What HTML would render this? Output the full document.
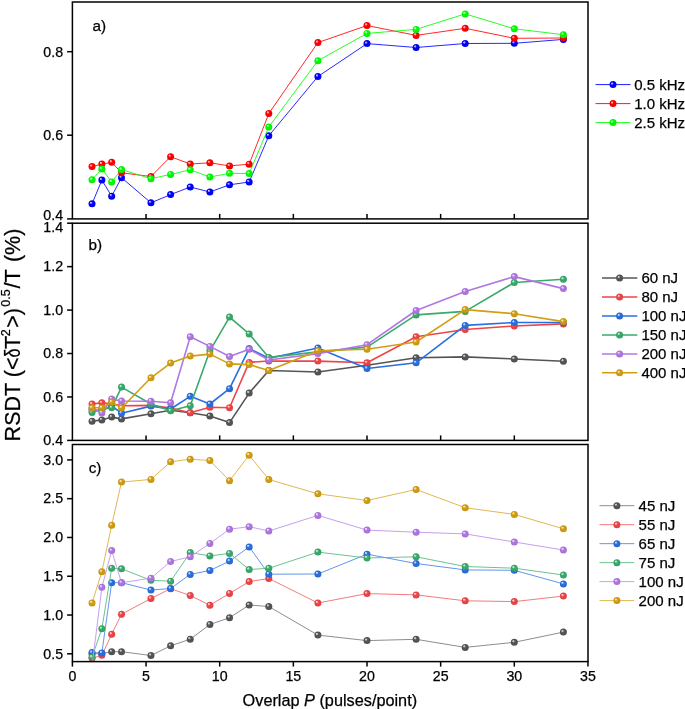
<!DOCTYPE html><html><head><meta charset="utf-8"><style>html,body{margin:0;padding:0;background:#fff;}svg{display:block;will-change:transform;}text{stroke:#000;stroke-width:0.25px;}</style></head><body><svg width="685" height="709" viewBox="0 0 685 709"><defs><radialGradient id="gablue" cx="0.5" cy="0.5" r="0.5" fx="0.31" fy="0.28"><stop offset="0" stop-color="#d9d9ff"/><stop offset="0.2" stop-color="#9999ff"/><stop offset="0.42" stop-color="#0000ff"/><stop offset="1.0" stop-color="#0000f0"/></radialGradient><radialGradient id="gared" cx="0.5" cy="0.5" r="0.5" fx="0.31" fy="0.28"><stop offset="0" stop-color="#ffd9d9"/><stop offset="0.2" stop-color="#ff9999"/><stop offset="0.42" stop-color="#ff0000"/><stop offset="1.0" stop-color="#f00000"/></radialGradient><radialGradient id="gagreen" cx="0.5" cy="0.5" r="0.5" fx="0.31" fy="0.28"><stop offset="0" stop-color="#d9ffd9"/><stop offset="0.2" stop-color="#99ff99"/><stop offset="0.42" stop-color="#00ff00"/><stop offset="1.0" stop-color="#00f000"/></radialGradient><radialGradient id="gbgray" cx="0.5" cy="0.5" r="0.5" fx="0.31" fy="0.28"><stop offset="0" stop-color="#e6e6e6"/><stop offset="0.2" stop-color="#bbbbbb"/><stop offset="0.42" stop-color="#555555"/><stop offset="1.0" stop-color="#505050"/></radialGradient><radialGradient id="gbred" cx="0.5" cy="0.5" r="0.5" fx="0.31" fy="0.28"><stop offset="0" stop-color="#fce3e4"/><stop offset="0.2" stop-color="#f8b5b6"/><stop offset="0.42" stop-color="#ee4548"/><stop offset="1.0" stop-color="#e04144"/></radialGradient><radialGradient id="gbblue" cx="0.5" cy="0.5" r="0.5" fx="0.31" fy="0.28"><stop offset="0" stop-color="#dfe9fa"/><stop offset="0.2" stop-color="#aac5f2"/><stop offset="0.42" stop-color="#2a6fdf"/><stop offset="1.0" stop-color="#2768d2"/></radialGradient><radialGradient id="gbgreen" cx="0.5" cy="0.5" r="0.5" fx="0.31" fy="0.28"><stop offset="0" stop-color="#e1f2e9"/><stop offset="0.2" stop-color="#b0ddc3"/><stop offset="0.42" stop-color="#3aaa6a"/><stop offset="1.0" stop-color="#37a064"/></radialGradient><radialGradient id="gbpurple" cx="0.5" cy="0.5" r="0.5" fx="0.31" fy="0.28"><stop offset="0" stop-color="#f3ebfb"/><stop offset="0.2" stop-color="#dfc9f3"/><stop offset="0.42" stop-color="#b077e2"/><stop offset="1.0" stop-color="#a570d4"/></radialGradient><radialGradient id="gbgold" cx="0.5" cy="0.5" r="0.5" fx="0.31" fy="0.28"><stop offset="0" stop-color="#f8f0db"/><stop offset="0.2" stop-color="#edd8a0"/><stop offset="0.42" stop-color="#d29e12"/><stop offset="1.0" stop-color="#c59511"/></radialGradient></defs><rect width="685" height="709" fill="#fff"/><clipPath id="ca"><rect x="72.4" y="2.0" width="515.6" height="216.9"/></clipPath><clipPath id="cb"><rect x="72.4" y="223.2" width="515.6" height="217.2"/></clipPath><clipPath id="cc"><rect x="72.4" y="444.5" width="515.6" height="217.10000000000002"/></clipPath><g font-family="Liberation Sans, sans-serif" fill="#000" stroke-width="0"><g clip-path="url(#ca)"><polyline points="92.04,203.80 101.86,180.10 111.68,196.20 121.50,177.70 150.96,202.80 170.60,194.60 190.24,187.00 209.88,192.00 229.52,184.80 249.16,182.00 268.80,135.80 317.90,76.50 367.00,43.60 416.10,47.50 465.20,43.50 514.30,43.30 563.40,39.40" fill="none" stroke="#0000ff" stroke-width="0.85" stroke-linejoin="round"/><circle cx="92.04" cy="203.80" r="3.5" fill="url(#gablue)"/><circle cx="101.86" cy="180.10" r="3.5" fill="url(#gablue)"/><circle cx="111.68" cy="196.20" r="3.5" fill="url(#gablue)"/><circle cx="121.50" cy="177.70" r="3.5" fill="url(#gablue)"/><circle cx="150.96" cy="202.80" r="3.5" fill="url(#gablue)"/><circle cx="170.60" cy="194.60" r="3.5" fill="url(#gablue)"/><circle cx="190.24" cy="187.00" r="3.5" fill="url(#gablue)"/><circle cx="209.88" cy="192.00" r="3.5" fill="url(#gablue)"/><circle cx="229.52" cy="184.80" r="3.5" fill="url(#gablue)"/><circle cx="249.16" cy="182.00" r="3.5" fill="url(#gablue)"/><circle cx="268.80" cy="135.80" r="3.5" fill="url(#gablue)"/><circle cx="317.90" cy="76.50" r="3.5" fill="url(#gablue)"/><circle cx="367.00" cy="43.60" r="3.5" fill="url(#gablue)"/><circle cx="416.10" cy="47.50" r="3.5" fill="url(#gablue)"/><circle cx="465.20" cy="43.50" r="3.5" fill="url(#gablue)"/><circle cx="514.30" cy="43.30" r="3.5" fill="url(#gablue)"/><circle cx="563.40" cy="39.40" r="3.5" fill="url(#gablue)"/><polyline points="92.04,166.60 101.86,164.10 111.68,162.30 121.50,172.80 150.96,176.50 170.60,156.70 190.24,164.00 209.88,162.80 229.52,165.90 249.16,164.20 268.80,113.50 317.90,42.60 367.00,25.50 416.10,35.40 465.20,28.30 514.30,38.30 563.40,38.00" fill="none" stroke="#ff0000" stroke-width="0.85" stroke-linejoin="round"/><circle cx="92.04" cy="166.60" r="3.5" fill="url(#gared)"/><circle cx="101.86" cy="164.10" r="3.5" fill="url(#gared)"/><circle cx="111.68" cy="162.30" r="3.5" fill="url(#gared)"/><circle cx="121.50" cy="172.80" r="3.5" fill="url(#gared)"/><circle cx="150.96" cy="176.50" r="3.5" fill="url(#gared)"/><circle cx="170.60" cy="156.70" r="3.5" fill="url(#gared)"/><circle cx="190.24" cy="164.00" r="3.5" fill="url(#gared)"/><circle cx="209.88" cy="162.80" r="3.5" fill="url(#gared)"/><circle cx="229.52" cy="165.90" r="3.5" fill="url(#gared)"/><circle cx="249.16" cy="164.20" r="3.5" fill="url(#gared)"/><circle cx="268.80" cy="113.50" r="3.5" fill="url(#gared)"/><circle cx="317.90" cy="42.60" r="3.5" fill="url(#gared)"/><circle cx="367.00" cy="25.50" r="3.5" fill="url(#gared)"/><circle cx="416.10" cy="35.40" r="3.5" fill="url(#gared)"/><circle cx="465.20" cy="28.30" r="3.5" fill="url(#gared)"/><circle cx="514.30" cy="38.30" r="3.5" fill="url(#gared)"/><circle cx="563.40" cy="38.00" r="3.5" fill="url(#gared)"/><polyline points="92.04,179.70 101.86,168.90 111.68,181.90 121.50,169.60 150.96,178.70 170.60,174.40 190.24,169.80 209.88,177.00 229.52,173.30 249.16,173.60 268.80,126.90 317.90,60.70 367.00,33.40 416.10,29.40 465.20,13.90 514.30,28.80 563.40,34.70" fill="none" stroke="#00ff00" stroke-width="0.85" stroke-linejoin="round"/><circle cx="92.04" cy="179.70" r="3.5" fill="url(#gagreen)"/><circle cx="101.86" cy="168.90" r="3.5" fill="url(#gagreen)"/><circle cx="111.68" cy="181.90" r="3.5" fill="url(#gagreen)"/><circle cx="121.50" cy="169.60" r="3.5" fill="url(#gagreen)"/><circle cx="150.96" cy="178.70" r="3.5" fill="url(#gagreen)"/><circle cx="170.60" cy="174.40" r="3.5" fill="url(#gagreen)"/><circle cx="190.24" cy="169.80" r="3.5" fill="url(#gagreen)"/><circle cx="209.88" cy="177.00" r="3.5" fill="url(#gagreen)"/><circle cx="229.52" cy="173.30" r="3.5" fill="url(#gagreen)"/><circle cx="249.16" cy="173.60" r="3.5" fill="url(#gagreen)"/><circle cx="268.80" cy="126.90" r="3.5" fill="url(#gagreen)"/><circle cx="317.90" cy="60.70" r="3.5" fill="url(#gagreen)"/><circle cx="367.00" cy="33.40" r="3.5" fill="url(#gagreen)"/><circle cx="416.10" cy="29.40" r="3.5" fill="url(#gagreen)"/><circle cx="465.20" cy="13.90" r="3.5" fill="url(#gagreen)"/><circle cx="514.30" cy="28.80" r="3.5" fill="url(#gagreen)"/><circle cx="563.40" cy="34.70" r="3.5" fill="url(#gagreen)"/></g><g clip-path="url(#cb)"><polyline points="92.04,421.30 101.86,419.90 111.68,417.10 121.50,418.90 150.96,413.80 170.60,410.30 190.24,412.80 209.88,416.00 229.52,422.60 249.16,393.10 268.80,370.50 317.90,372.00 367.00,365.30 416.10,357.80 465.20,356.90 514.30,359.00 563.40,361.30" fill="none" stroke="#555555" stroke-width="1.6" stroke-linejoin="round"/><circle cx="92.04" cy="421.30" r="3.5" fill="url(#gbgray)"/><circle cx="101.86" cy="419.90" r="3.5" fill="url(#gbgray)"/><circle cx="111.68" cy="417.10" r="3.5" fill="url(#gbgray)"/><circle cx="121.50" cy="418.90" r="3.5" fill="url(#gbgray)"/><circle cx="150.96" cy="413.80" r="3.5" fill="url(#gbgray)"/><circle cx="170.60" cy="410.30" r="3.5" fill="url(#gbgray)"/><circle cx="190.24" cy="412.80" r="3.5" fill="url(#gbgray)"/><circle cx="209.88" cy="416.00" r="3.5" fill="url(#gbgray)"/><circle cx="229.52" cy="422.60" r="3.5" fill="url(#gbgray)"/><circle cx="249.16" cy="393.10" r="3.5" fill="url(#gbgray)"/><circle cx="268.80" cy="370.50" r="3.5" fill="url(#gbgray)"/><circle cx="317.90" cy="372.00" r="3.5" fill="url(#gbgray)"/><circle cx="367.00" cy="365.30" r="3.5" fill="url(#gbgray)"/><circle cx="416.10" cy="357.80" r="3.5" fill="url(#gbgray)"/><circle cx="465.20" cy="356.90" r="3.5" fill="url(#gbgray)"/><circle cx="514.30" cy="359.00" r="3.5" fill="url(#gbgray)"/><circle cx="563.40" cy="361.30" r="3.5" fill="url(#gbgray)"/><polyline points="92.04,404.10 101.86,402.80 111.68,403.80 121.50,405.70 150.96,405.40 170.60,408.00 190.24,412.80 209.88,407.30 229.52,407.70 249.16,362.40 268.80,361.00 317.90,361.10 367.00,362.80 416.10,336.80 465.20,329.50 514.30,326.00 563.40,323.90" fill="none" stroke="#ee4548" stroke-width="1.6" stroke-linejoin="round"/><circle cx="92.04" cy="404.10" r="3.5" fill="url(#gbred)"/><circle cx="101.86" cy="402.80" r="3.5" fill="url(#gbred)"/><circle cx="111.68" cy="403.80" r="3.5" fill="url(#gbred)"/><circle cx="121.50" cy="405.70" r="3.5" fill="url(#gbred)"/><circle cx="150.96" cy="405.40" r="3.5" fill="url(#gbred)"/><circle cx="170.60" cy="408.00" r="3.5" fill="url(#gbred)"/><circle cx="190.24" cy="412.80" r="3.5" fill="url(#gbred)"/><circle cx="209.88" cy="407.30" r="3.5" fill="url(#gbred)"/><circle cx="229.52" cy="407.70" r="3.5" fill="url(#gbred)"/><circle cx="249.16" cy="362.40" r="3.5" fill="url(#gbred)"/><circle cx="268.80" cy="361.00" r="3.5" fill="url(#gbred)"/><circle cx="317.90" cy="361.10" r="3.5" fill="url(#gbred)"/><circle cx="367.00" cy="362.80" r="3.5" fill="url(#gbred)"/><circle cx="416.10" cy="336.80" r="3.5" fill="url(#gbred)"/><circle cx="465.20" cy="329.50" r="3.5" fill="url(#gbred)"/><circle cx="514.30" cy="326.00" r="3.5" fill="url(#gbred)"/><circle cx="563.40" cy="323.90" r="3.5" fill="url(#gbred)"/><polyline points="92.04,410.00 101.86,410.50 111.68,406.00 121.50,413.20 150.96,406.10 170.60,409.00 190.24,396.30 209.88,404.00 229.52,388.70 249.16,348.60 268.80,358.30 317.90,348.00 367.00,368.50 416.10,362.80 465.20,325.40 514.30,322.50 563.40,322.50" fill="none" stroke="#2a6fdf" stroke-width="1.6" stroke-linejoin="round"/><circle cx="92.04" cy="410.00" r="3.5" fill="url(#gbblue)"/><circle cx="101.86" cy="410.50" r="3.5" fill="url(#gbblue)"/><circle cx="111.68" cy="406.00" r="3.5" fill="url(#gbblue)"/><circle cx="121.50" cy="413.20" r="3.5" fill="url(#gbblue)"/><circle cx="150.96" cy="406.10" r="3.5" fill="url(#gbblue)"/><circle cx="170.60" cy="409.00" r="3.5" fill="url(#gbblue)"/><circle cx="190.24" cy="396.30" r="3.5" fill="url(#gbblue)"/><circle cx="209.88" cy="404.00" r="3.5" fill="url(#gbblue)"/><circle cx="229.52" cy="388.70" r="3.5" fill="url(#gbblue)"/><circle cx="249.16" cy="348.60" r="3.5" fill="url(#gbblue)"/><circle cx="268.80" cy="358.30" r="3.5" fill="url(#gbblue)"/><circle cx="317.90" cy="348.00" r="3.5" fill="url(#gbblue)"/><circle cx="367.00" cy="368.50" r="3.5" fill="url(#gbblue)"/><circle cx="416.10" cy="362.80" r="3.5" fill="url(#gbblue)"/><circle cx="465.20" cy="325.40" r="3.5" fill="url(#gbblue)"/><circle cx="514.30" cy="322.50" r="3.5" fill="url(#gbblue)"/><circle cx="563.40" cy="322.50" r="3.5" fill="url(#gbblue)"/><polyline points="92.04,412.50 101.86,409.00 111.68,407.80 121.50,387.10 150.96,404.00 170.60,410.80 190.24,405.80 209.88,350.80 229.52,317.10 249.16,333.90 268.80,357.40 317.90,351.90 367.00,347.10 416.10,314.90 465.20,311.40 514.30,282.50 563.40,279.30" fill="none" stroke="#3aaa6a" stroke-width="1.6" stroke-linejoin="round"/><circle cx="92.04" cy="412.50" r="3.5" fill="url(#gbgreen)"/><circle cx="101.86" cy="409.00" r="3.5" fill="url(#gbgreen)"/><circle cx="111.68" cy="407.80" r="3.5" fill="url(#gbgreen)"/><circle cx="121.50" cy="387.10" r="3.5" fill="url(#gbgreen)"/><circle cx="150.96" cy="404.00" r="3.5" fill="url(#gbgreen)"/><circle cx="170.60" cy="410.80" r="3.5" fill="url(#gbgreen)"/><circle cx="190.24" cy="405.80" r="3.5" fill="url(#gbgreen)"/><circle cx="209.88" cy="350.80" r="3.5" fill="url(#gbgreen)"/><circle cx="229.52" cy="317.10" r="3.5" fill="url(#gbgreen)"/><circle cx="249.16" cy="333.90" r="3.5" fill="url(#gbgreen)"/><circle cx="268.80" cy="357.40" r="3.5" fill="url(#gbgreen)"/><circle cx="317.90" cy="351.90" r="3.5" fill="url(#gbgreen)"/><circle cx="367.00" cy="347.10" r="3.5" fill="url(#gbgreen)"/><circle cx="416.10" cy="314.90" r="3.5" fill="url(#gbgreen)"/><circle cx="465.20" cy="311.40" r="3.5" fill="url(#gbgreen)"/><circle cx="514.30" cy="282.50" r="3.5" fill="url(#gbgreen)"/><circle cx="563.40" cy="279.30" r="3.5" fill="url(#gbgreen)"/><polyline points="92.04,408.20 101.86,412.90 111.68,399.10 121.50,401.00 150.96,401.20 170.60,402.80 190.24,336.80 209.88,346.40 229.52,356.50 249.16,349.30 268.80,360.00 317.90,353.60 367.00,344.70 416.10,310.50 465.20,291.50 514.30,276.60 563.40,288.60" fill="none" stroke="#b077e2" stroke-width="1.6" stroke-linejoin="round"/><circle cx="92.04" cy="408.20" r="3.5" fill="url(#gbpurple)"/><circle cx="101.86" cy="412.90" r="3.5" fill="url(#gbpurple)"/><circle cx="111.68" cy="399.10" r="3.5" fill="url(#gbpurple)"/><circle cx="121.50" cy="401.00" r="3.5" fill="url(#gbpurple)"/><circle cx="150.96" cy="401.20" r="3.5" fill="url(#gbpurple)"/><circle cx="170.60" cy="402.80" r="3.5" fill="url(#gbpurple)"/><circle cx="190.24" cy="336.80" r="3.5" fill="url(#gbpurple)"/><circle cx="209.88" cy="346.40" r="3.5" fill="url(#gbpurple)"/><circle cx="229.52" cy="356.50" r="3.5" fill="url(#gbpurple)"/><circle cx="249.16" cy="349.30" r="3.5" fill="url(#gbpurple)"/><circle cx="268.80" cy="360.00" r="3.5" fill="url(#gbpurple)"/><circle cx="317.90" cy="353.60" r="3.5" fill="url(#gbpurple)"/><circle cx="367.00" cy="344.70" r="3.5" fill="url(#gbpurple)"/><circle cx="416.10" cy="310.50" r="3.5" fill="url(#gbpurple)"/><circle cx="465.20" cy="291.50" r="3.5" fill="url(#gbpurple)"/><circle cx="514.30" cy="276.60" r="3.5" fill="url(#gbpurple)"/><circle cx="563.40" cy="288.60" r="3.5" fill="url(#gbpurple)"/><polyline points="92.04,407.80 101.86,407.80 111.68,402.10 121.50,408.00 150.96,377.80 170.60,363.10 190.24,356.10 209.88,354.10 229.52,363.90 249.16,364.60 268.80,370.50 317.90,350.80 367.00,349.30 416.10,342.00 465.20,309.60 514.30,313.70 563.40,321.60" fill="none" stroke="#d29e12" stroke-width="1.6" stroke-linejoin="round"/><circle cx="92.04" cy="407.80" r="3.5" fill="url(#gbgold)"/><circle cx="101.86" cy="407.80" r="3.5" fill="url(#gbgold)"/><circle cx="111.68" cy="402.10" r="3.5" fill="url(#gbgold)"/><circle cx="121.50" cy="408.00" r="3.5" fill="url(#gbgold)"/><circle cx="150.96" cy="377.80" r="3.5" fill="url(#gbgold)"/><circle cx="170.60" cy="363.10" r="3.5" fill="url(#gbgold)"/><circle cx="190.24" cy="356.10" r="3.5" fill="url(#gbgold)"/><circle cx="209.88" cy="354.10" r="3.5" fill="url(#gbgold)"/><circle cx="229.52" cy="363.90" r="3.5" fill="url(#gbgold)"/><circle cx="249.16" cy="364.60" r="3.5" fill="url(#gbgold)"/><circle cx="268.80" cy="370.50" r="3.5" fill="url(#gbgold)"/><circle cx="317.90" cy="350.80" r="3.5" fill="url(#gbgold)"/><circle cx="367.00" cy="349.30" r="3.5" fill="url(#gbgold)"/><circle cx="416.10" cy="342.00" r="3.5" fill="url(#gbgold)"/><circle cx="465.20" cy="309.60" r="3.5" fill="url(#gbgold)"/><circle cx="514.30" cy="313.70" r="3.5" fill="url(#gbgold)"/><circle cx="563.40" cy="321.60" r="3.5" fill="url(#gbgold)"/></g><g clip-path="url(#cc)"><polyline points="92.04,654.00 101.86,653.50 111.68,651.70 121.50,651.70 150.96,655.50 170.60,645.80 190.24,639.20 209.88,624.50 229.52,617.70 249.16,605.00 268.80,606.50 317.90,635.10 367.00,640.60 416.10,639.30 465.20,647.40 514.30,642.30 563.40,632.10" fill="none" stroke="#808080" stroke-width="0.9" stroke-linejoin="round"/><circle cx="92.04" cy="654.00" r="3.5" fill="url(#gbgray)"/><circle cx="101.86" cy="653.50" r="3.5" fill="url(#gbgray)"/><circle cx="111.68" cy="651.70" r="3.5" fill="url(#gbgray)"/><circle cx="121.50" cy="651.70" r="3.5" fill="url(#gbgray)"/><circle cx="150.96" cy="655.50" r="3.5" fill="url(#gbgray)"/><circle cx="170.60" cy="645.80" r="3.5" fill="url(#gbgray)"/><circle cx="190.24" cy="639.20" r="3.5" fill="url(#gbgray)"/><circle cx="209.88" cy="624.50" r="3.5" fill="url(#gbgray)"/><circle cx="229.52" cy="617.70" r="3.5" fill="url(#gbgray)"/><circle cx="249.16" cy="605.00" r="3.5" fill="url(#gbgray)"/><circle cx="268.80" cy="606.50" r="3.5" fill="url(#gbgray)"/><circle cx="317.90" cy="635.10" r="3.5" fill="url(#gbgray)"/><circle cx="367.00" cy="640.60" r="3.5" fill="url(#gbgray)"/><circle cx="416.10" cy="639.30" r="3.5" fill="url(#gbgray)"/><circle cx="465.20" cy="647.40" r="3.5" fill="url(#gbgray)"/><circle cx="514.30" cy="642.30" r="3.5" fill="url(#gbgray)"/><circle cx="563.40" cy="632.10" r="3.5" fill="url(#gbgray)"/><polyline points="92.04,658.30 101.86,655.20 111.68,634.30 121.50,614.20 150.96,598.50 170.60,588.70 190.24,595.50 209.88,605.20 229.52,593.40 249.16,581.60 268.80,578.50 317.90,603.00 367.00,593.60 416.10,594.90 465.20,600.80 514.30,601.60 563.40,596.10" fill="none" stroke="#f26b6d" stroke-width="0.9" stroke-linejoin="round"/><circle cx="92.04" cy="658.30" r="3.5" fill="url(#gbred)"/><circle cx="101.86" cy="655.20" r="3.5" fill="url(#gbred)"/><circle cx="111.68" cy="634.30" r="3.5" fill="url(#gbred)"/><circle cx="121.50" cy="614.20" r="3.5" fill="url(#gbred)"/><circle cx="150.96" cy="598.50" r="3.5" fill="url(#gbred)"/><circle cx="170.60" cy="588.70" r="3.5" fill="url(#gbred)"/><circle cx="190.24" cy="595.50" r="3.5" fill="url(#gbred)"/><circle cx="209.88" cy="605.20" r="3.5" fill="url(#gbred)"/><circle cx="229.52" cy="593.40" r="3.5" fill="url(#gbred)"/><circle cx="249.16" cy="581.60" r="3.5" fill="url(#gbred)"/><circle cx="268.80" cy="578.50" r="3.5" fill="url(#gbred)"/><circle cx="317.90" cy="603.00" r="3.5" fill="url(#gbred)"/><circle cx="367.00" cy="593.60" r="3.5" fill="url(#gbred)"/><circle cx="416.10" cy="594.90" r="3.5" fill="url(#gbred)"/><circle cx="465.20" cy="600.80" r="3.5" fill="url(#gbred)"/><circle cx="514.30" cy="601.60" r="3.5" fill="url(#gbred)"/><circle cx="563.40" cy="596.10" r="3.5" fill="url(#gbred)"/><polyline points="92.04,652.60 101.86,652.90 111.68,582.70 121.50,582.70 150.96,590.00 170.60,588.50 190.24,574.40 209.88,570.50 229.52,561.10 249.16,546.90 268.80,574.20 317.90,574.00 367.00,554.20 416.10,563.50 465.20,569.90 514.30,570.30 563.40,583.90" fill="none" stroke="#4f8ae6" stroke-width="0.9" stroke-linejoin="round"/><circle cx="92.04" cy="652.60" r="3.5" fill="url(#gbblue)"/><circle cx="101.86" cy="652.90" r="3.5" fill="url(#gbblue)"/><circle cx="111.68" cy="582.70" r="3.5" fill="url(#gbblue)"/><circle cx="121.50" cy="582.70" r="3.5" fill="url(#gbblue)"/><circle cx="150.96" cy="590.00" r="3.5" fill="url(#gbblue)"/><circle cx="170.60" cy="588.50" r="3.5" fill="url(#gbblue)"/><circle cx="190.24" cy="574.40" r="3.5" fill="url(#gbblue)"/><circle cx="209.88" cy="570.50" r="3.5" fill="url(#gbblue)"/><circle cx="229.52" cy="561.10" r="3.5" fill="url(#gbblue)"/><circle cx="249.16" cy="546.90" r="3.5" fill="url(#gbblue)"/><circle cx="268.80" cy="574.20" r="3.5" fill="url(#gbblue)"/><circle cx="317.90" cy="574.00" r="3.5" fill="url(#gbblue)"/><circle cx="367.00" cy="554.20" r="3.5" fill="url(#gbblue)"/><circle cx="416.10" cy="563.50" r="3.5" fill="url(#gbblue)"/><circle cx="465.20" cy="569.90" r="3.5" fill="url(#gbblue)"/><circle cx="514.30" cy="570.30" r="3.5" fill="url(#gbblue)"/><circle cx="563.40" cy="583.90" r="3.5" fill="url(#gbblue)"/><polyline points="92.04,657.30 101.86,628.70 111.68,568.20 121.50,568.80 150.96,580.30 170.60,581.20 190.24,552.60 209.88,555.90 229.52,553.40 249.16,569.50 268.80,568.30 317.90,552.10 367.00,558.00 416.10,556.80 465.20,566.50 514.30,568.20 563.40,575.00" fill="none" stroke="#5cba84" stroke-width="0.9" stroke-linejoin="round"/><circle cx="92.04" cy="657.30" r="3.5" fill="url(#gbgreen)"/><circle cx="101.86" cy="628.70" r="3.5" fill="url(#gbgreen)"/><circle cx="111.68" cy="568.20" r="3.5" fill="url(#gbgreen)"/><circle cx="121.50" cy="568.80" r="3.5" fill="url(#gbgreen)"/><circle cx="150.96" cy="580.30" r="3.5" fill="url(#gbgreen)"/><circle cx="170.60" cy="581.20" r="3.5" fill="url(#gbgreen)"/><circle cx="190.24" cy="552.60" r="3.5" fill="url(#gbgreen)"/><circle cx="209.88" cy="555.90" r="3.5" fill="url(#gbgreen)"/><circle cx="229.52" cy="553.40" r="3.5" fill="url(#gbgreen)"/><circle cx="249.16" cy="569.50" r="3.5" fill="url(#gbgreen)"/><circle cx="268.80" cy="568.30" r="3.5" fill="url(#gbgreen)"/><circle cx="317.90" cy="552.10" r="3.5" fill="url(#gbgreen)"/><circle cx="367.00" cy="558.00" r="3.5" fill="url(#gbgreen)"/><circle cx="416.10" cy="556.80" r="3.5" fill="url(#gbgreen)"/><circle cx="465.20" cy="566.50" r="3.5" fill="url(#gbgreen)"/><circle cx="514.30" cy="568.20" r="3.5" fill="url(#gbgreen)"/><circle cx="563.40" cy="575.00" r="3.5" fill="url(#gbgreen)"/><polyline points="92.04,666.00 101.86,587.30 111.68,550.60 121.50,582.70 150.96,578.20 170.60,561.50 190.24,556.80 209.88,543.40 229.52,529.20 249.16,526.70 268.80,531.00 317.90,515.40 367.00,530.10 416.10,532.20 465.20,533.90 514.30,542.00 563.40,550.00" fill="none" stroke="#c195ea" stroke-width="0.9" stroke-linejoin="round"/><circle cx="92.04" cy="666.00" r="3.5" fill="url(#gbpurple)"/><circle cx="101.86" cy="587.30" r="3.5" fill="url(#gbpurple)"/><circle cx="111.68" cy="550.60" r="3.5" fill="url(#gbpurple)"/><circle cx="121.50" cy="582.70" r="3.5" fill="url(#gbpurple)"/><circle cx="150.96" cy="578.20" r="3.5" fill="url(#gbpurple)"/><circle cx="170.60" cy="561.50" r="3.5" fill="url(#gbpurple)"/><circle cx="190.24" cy="556.80" r="3.5" fill="url(#gbpurple)"/><circle cx="209.88" cy="543.40" r="3.5" fill="url(#gbpurple)"/><circle cx="229.52" cy="529.20" r="3.5" fill="url(#gbpurple)"/><circle cx="249.16" cy="526.70" r="3.5" fill="url(#gbpurple)"/><circle cx="268.80" cy="531.00" r="3.5" fill="url(#gbpurple)"/><circle cx="317.90" cy="515.40" r="3.5" fill="url(#gbpurple)"/><circle cx="367.00" cy="530.10" r="3.5" fill="url(#gbpurple)"/><circle cx="416.10" cy="532.20" r="3.5" fill="url(#gbpurple)"/><circle cx="465.20" cy="533.90" r="3.5" fill="url(#gbpurple)"/><circle cx="514.30" cy="542.00" r="3.5" fill="url(#gbpurple)"/><circle cx="563.40" cy="550.00" r="3.5" fill="url(#gbpurple)"/><polyline points="92.04,603.00 101.86,571.80 111.68,525.20 121.50,482.10 150.96,479.40 170.60,461.80 190.24,459.20 209.88,460.50 229.52,480.70 249.16,455.20 268.80,479.50 317.90,493.80 367.00,500.50 416.10,489.50 465.20,507.70 514.30,514.40 563.40,528.80" fill="none" stroke="#dbb040" stroke-width="0.9" stroke-linejoin="round"/><circle cx="92.04" cy="603.00" r="3.5" fill="url(#gbgold)"/><circle cx="101.86" cy="571.80" r="3.5" fill="url(#gbgold)"/><circle cx="111.68" cy="525.20" r="3.5" fill="url(#gbgold)"/><circle cx="121.50" cy="482.10" r="3.5" fill="url(#gbgold)"/><circle cx="150.96" cy="479.40" r="3.5" fill="url(#gbgold)"/><circle cx="170.60" cy="461.80" r="3.5" fill="url(#gbgold)"/><circle cx="190.24" cy="459.20" r="3.5" fill="url(#gbgold)"/><circle cx="209.88" cy="460.50" r="3.5" fill="url(#gbgold)"/><circle cx="229.52" cy="480.70" r="3.5" fill="url(#gbgold)"/><circle cx="249.16" cy="455.20" r="3.5" fill="url(#gbgold)"/><circle cx="268.80" cy="479.50" r="3.5" fill="url(#gbgold)"/><circle cx="317.90" cy="493.80" r="3.5" fill="url(#gbgold)"/><circle cx="367.00" cy="500.50" r="3.5" fill="url(#gbgold)"/><circle cx="416.10" cy="489.50" r="3.5" fill="url(#gbgold)"/><circle cx="465.20" cy="507.70" r="3.5" fill="url(#gbgold)"/><circle cx="514.30" cy="514.40" r="3.5" fill="url(#gbgold)"/><circle cx="563.40" cy="528.80" r="3.5" fill="url(#gbgold)"/></g><rect x="72.4" y="2.0" width="515.6" height="216.9" fill="none" stroke="#000" stroke-width="1.5"/><rect x="72.4" y="223.2" width="515.6" height="217.2" fill="none" stroke="#000" stroke-width="1.5"/><rect x="72.4" y="444.5" width="515.6" height="217.10000000000002" fill="none" stroke="#000" stroke-width="1.5"/><line x1="67.10000000000001" y1="218.90" x2="72.4" y2="218.90" stroke="#000" stroke-width="1.5"/><text x="63.10000000000001" y="220.4" font-size="14.2" text-anchor="end">0.4</text><line x1="67.10000000000001" y1="135.20" x2="72.4" y2="135.20" stroke="#000" stroke-width="1.5"/><text x="63.10000000000001" y="140.0" font-size="14.2" text-anchor="end">0.6</text><line x1="67.10000000000001" y1="51.70" x2="72.4" y2="51.70" stroke="#000" stroke-width="1.5"/><text x="63.10000000000001" y="56.5" font-size="14.2" text-anchor="end">0.8</text><line x1="67.10000000000001" y1="440.40" x2="72.4" y2="440.40" stroke="#000" stroke-width="1.5"/><text x="63.10000000000001" y="445.2" font-size="14.2" text-anchor="end">0.4</text><line x1="67.10000000000001" y1="396.96" x2="72.4" y2="396.96" stroke="#000" stroke-width="1.5"/><text x="63.10000000000001" y="401.7" font-size="14.2" text-anchor="end">0.6</text><line x1="67.10000000000001" y1="353.52" x2="72.4" y2="353.52" stroke="#000" stroke-width="1.5"/><text x="63.10000000000001" y="358.3" font-size="14.2" text-anchor="end">0.8</text><line x1="67.10000000000001" y1="310.08" x2="72.4" y2="310.08" stroke="#000" stroke-width="1.5"/><text x="63.10000000000001" y="314.8" font-size="14.2" text-anchor="end">1.0</text><line x1="67.10000000000001" y1="266.64" x2="72.4" y2="266.64" stroke="#000" stroke-width="1.5"/><text x="63.10000000000001" y="271.4" font-size="14.2" text-anchor="end">1.2</text><line x1="67.10000000000001" y1="223.20" x2="72.4" y2="223.20" stroke="#000" stroke-width="1.5"/><text x="63.10000000000001" y="232.1" font-size="14.2" text-anchor="end">1.4</text><line x1="67.10000000000001" y1="653.80" x2="72.4" y2="653.80" stroke="#000" stroke-width="1.5"/><text x="63.10000000000001" y="658.6" font-size="14.2" text-anchor="end">0.5</text><line x1="67.10000000000001" y1="615.02" x2="72.4" y2="615.02" stroke="#000" stroke-width="1.5"/><text x="63.10000000000001" y="619.8" font-size="14.2" text-anchor="end">1.0</text><line x1="67.10000000000001" y1="576.24" x2="72.4" y2="576.24" stroke="#000" stroke-width="1.5"/><text x="63.10000000000001" y="581.0" font-size="14.2" text-anchor="end">1.5</text><line x1="67.10000000000001" y1="537.46" x2="72.4" y2="537.46" stroke="#000" stroke-width="1.5"/><text x="63.10000000000001" y="542.2" font-size="14.2" text-anchor="end">2.0</text><line x1="67.10000000000001" y1="498.68" x2="72.4" y2="498.68" stroke="#000" stroke-width="1.5"/><text x="63.10000000000001" y="503.4" font-size="14.2" text-anchor="end">2.5</text><line x1="67.10000000000001" y1="459.90" x2="72.4" y2="459.90" stroke="#000" stroke-width="1.5"/><text x="63.10000000000001" y="464.7" font-size="14.2" text-anchor="end">3.0</text><line x1="146.05" y1="213.9" x2="146.05" y2="218.9" stroke="#000" stroke-width="1.5"/><line x1="219.70" y1="213.9" x2="219.70" y2="218.9" stroke="#000" stroke-width="1.5"/><line x1="293.35" y1="213.9" x2="293.35" y2="218.9" stroke="#000" stroke-width="1.5"/><line x1="367.00" y1="213.9" x2="367.00" y2="218.9" stroke="#000" stroke-width="1.5"/><line x1="440.65" y1="213.9" x2="440.65" y2="218.9" stroke="#000" stroke-width="1.5"/><line x1="514.30" y1="213.9" x2="514.30" y2="218.9" stroke="#000" stroke-width="1.5"/><line x1="146.05" y1="435.4" x2="146.05" y2="440.4" stroke="#000" stroke-width="1.5"/><line x1="219.70" y1="435.4" x2="219.70" y2="440.4" stroke="#000" stroke-width="1.5"/><line x1="293.35" y1="435.4" x2="293.35" y2="440.4" stroke="#000" stroke-width="1.5"/><line x1="367.00" y1="435.4" x2="367.00" y2="440.4" stroke="#000" stroke-width="1.5"/><line x1="440.65" y1="435.4" x2="440.65" y2="440.4" stroke="#000" stroke-width="1.5"/><line x1="514.30" y1="435.4" x2="514.30" y2="440.4" stroke="#000" stroke-width="1.5"/><line x1="72.40" y1="661.6" x2="72.40" y2="666.6" stroke="#000" stroke-width="1.5"/><text x="72.40" y="681.3" font-size="14.2" text-anchor="middle">0</text><line x1="146.05" y1="661.6" x2="146.05" y2="666.6" stroke="#000" stroke-width="1.5"/><text x="146.05" y="681.3" font-size="14.2" text-anchor="middle">5</text><line x1="219.70" y1="661.6" x2="219.70" y2="666.6" stroke="#000" stroke-width="1.5"/><text x="219.70" y="681.3" font-size="14.2" text-anchor="middle">10</text><line x1="293.35" y1="661.6" x2="293.35" y2="666.6" stroke="#000" stroke-width="1.5"/><text x="293.35" y="681.3" font-size="14.2" text-anchor="middle">15</text><line x1="367.00" y1="661.6" x2="367.00" y2="666.6" stroke="#000" stroke-width="1.5"/><text x="367.00" y="681.3" font-size="14.2" text-anchor="middle">20</text><line x1="440.65" y1="661.6" x2="440.65" y2="666.6" stroke="#000" stroke-width="1.5"/><text x="440.65" y="681.3" font-size="14.2" text-anchor="middle">25</text><line x1="514.30" y1="661.6" x2="514.30" y2="666.6" stroke="#000" stroke-width="1.5"/><text x="514.30" y="681.3" font-size="14.2" text-anchor="middle">30</text><line x1="587.95" y1="661.6" x2="587.95" y2="666.6" stroke="#000" stroke-width="1.5"/><text x="587.95" y="681.3" font-size="14.2" text-anchor="middle">35</text><text x="92.5" y="30.6" font-size="15.3">a)</text><text x="88.5" y="249.9" font-size="15.3">b)</text><text x="88.7" y="472.6" font-size="15.3">c)</text><line x1="595.5" y1="84.6" x2="630.5" y2="84.6" stroke="#0000ff" stroke-width="0.9"/><circle cx="613" cy="84.6" r="3.5" fill="url(#gablue)"/><text x="634.2" y="89.6" font-size="15">0.5 kHz</text><line x1="595.5" y1="103.6" x2="630.5" y2="103.6" stroke="#ff0000" stroke-width="0.9"/><circle cx="613" cy="103.6" r="3.5" fill="url(#gared)"/><text x="634.2" y="108.6" font-size="15">1.0 kHz</text><line x1="595.5" y1="122.6" x2="630.5" y2="122.6" stroke="#00ff00" stroke-width="0.9"/><circle cx="613" cy="122.6" r="3.5" fill="url(#gagreen)"/><text x="634.2" y="127.6" font-size="15">2.5 kHz</text><line x1="602" y1="278.10" x2="637.3" y2="278.10" stroke="#555555" stroke-width="1.5"/><circle cx="619.6" cy="278.10" r="3.5" fill="url(#gbgray)"/><text x="641.4" y="282.8" font-size="15">60 nJ</text><line x1="602" y1="297.05" x2="637.3" y2="297.05" stroke="#ee4548" stroke-width="1.5"/><circle cx="619.6" cy="297.05" r="3.5" fill="url(#gbred)"/><text x="641.4" y="301.8" font-size="15">80 nJ</text><line x1="602" y1="316.00" x2="637.3" y2="316.00" stroke="#2a6fdf" stroke-width="1.5"/><circle cx="619.6" cy="316.00" r="3.5" fill="url(#gbblue)"/><text x="641.4" y="320.7" font-size="15">100 nJ</text><line x1="602" y1="334.95" x2="637.3" y2="334.95" stroke="#3aaa6a" stroke-width="1.5"/><circle cx="619.6" cy="334.95" r="3.5" fill="url(#gbgreen)"/><text x="641.4" y="339.7" font-size="15">150 nJ</text><line x1="602" y1="353.90" x2="637.3" y2="353.90" stroke="#b077e2" stroke-width="1.5"/><circle cx="619.6" cy="353.90" r="3.5" fill="url(#gbpurple)"/><text x="641.4" y="358.6" font-size="15">200 nJ</text><line x1="602" y1="372.85" x2="637.3" y2="372.85" stroke="#d29e12" stroke-width="1.5"/><circle cx="619.6" cy="372.85" r="3.5" fill="url(#gbgold)"/><text x="641.4" y="377.6" font-size="15">400 nJ</text><line x1="599.5" y1="505.70" x2="634.3" y2="505.70" stroke="#808080" stroke-width="0.9"/><circle cx="616.9" cy="505.70" r="3.5" fill="url(#gbgray)"/><text x="638.6" y="510.9" font-size="15">45 nJ</text><line x1="599.5" y1="524.68" x2="634.3" y2="524.68" stroke="#f26b6d" stroke-width="0.9"/><circle cx="616.9" cy="524.68" r="3.5" fill="url(#gbred)"/><text x="638.6" y="529.9" font-size="15">55 nJ</text><line x1="599.5" y1="543.66" x2="634.3" y2="543.66" stroke="#4f8ae6" stroke-width="0.9"/><circle cx="616.9" cy="543.66" r="3.5" fill="url(#gbblue)"/><text x="638.6" y="548.9" font-size="15">65 nJ</text><line x1="599.5" y1="562.64" x2="634.3" y2="562.64" stroke="#5cba84" stroke-width="0.9"/><circle cx="616.9" cy="562.64" r="3.5" fill="url(#gbgreen)"/><text x="638.6" y="567.9" font-size="15">75 nJ</text><line x1="599.5" y1="581.62" x2="634.3" y2="581.62" stroke="#c195ea" stroke-width="0.9"/><circle cx="616.9" cy="581.62" r="3.5" fill="url(#gbpurple)"/><text x="638.6" y="586.9" font-size="15">100 nJ</text><line x1="599.5" y1="600.60" x2="634.3" y2="600.60" stroke="#dbb040" stroke-width="0.9"/><circle cx="616.9" cy="600.60" r="3.5" fill="url(#gbgold)"/><text x="638.6" y="605.9" font-size="15">200 nJ</text><text x="242.6" y="706.0" font-size="17" textLength="174.5" lengthAdjust="spacingAndGlyphs">Overlap <tspan font-style="italic">P</tspan> (pulses/point)</text><g transform="translate(20.2,0) rotate(-90)"><text x="-441.40" y="0" font-size="21.5">RSDT (&lt;</text><text transform="translate(-357.60,0) scale(0.75,1)" x="0" y="0" font-size="21.5">δ</text><text x="-349.10" y="0" font-size="21.5">T</text><text x="-336.20" y="-10.6" font-size="12.5">2</text><text x="-327.80" y="0" font-size="21.5">&gt;)</text><text x="-306.80" y="-10.6" font-size="12.5">0.5</text><text x="-288.50" y="0" font-size="21.5">/T</text><text x="-262.10" y="0" font-size="21.5">(%)</text></g></g></svg></body></html>
